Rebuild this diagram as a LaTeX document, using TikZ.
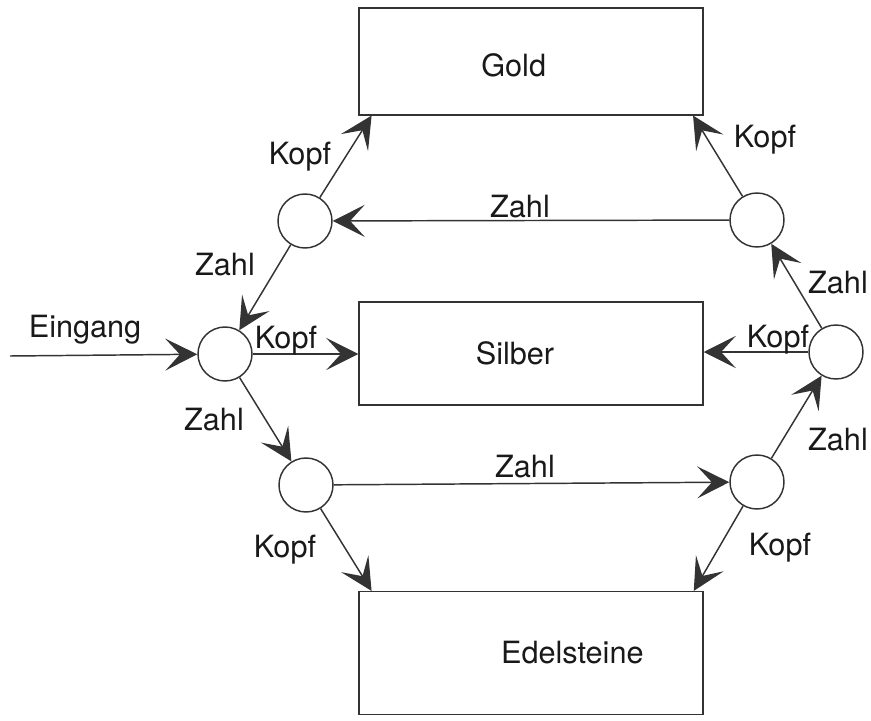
\documentclass[tikz,border=0pt]{standalone}
\usepackage{fontspec}
\setmainfont{TeX Gyre Heros}
\usepackage{tikz}
\usetikzlibrary{arrows.meta,positioning,calc}
\tikzstyle{coin}=[draw,circle,minimum size=40.5pt,inner sep=0pt]
\tikzstyle{chest}=[draw,rectangle,minimum width=258pt,inner sep=0pt]
\tikzstyle{flow}=[-{Stealth[length=24pt,width=24pt,inset=11pt]}]
\tikzstyle{lbl}=[inner sep=0pt]

\begin{document}
\begin{tikzpicture}[x=0.75pt,y=-0.75pt,line width=1.1pt,draw=black!80,text=black!90,
  font=\fontsize{23}{27}\selectfont]
\useasboundingbox (0,0) rectangle (871,721);
\node [chest,minimum height=80pt,label={[xshift=-13pt,yshift=-3pt]center:Gold}] (gold) at (531,61.5) {};
\node [chest,minimum height=77pt,label={[xshift=-12pt]center:Silber}] (silber) at (531,353.5) {};
\node [chest,minimum height=92pt,label={[xshift=31pt]center:Edelsteine}] (edel) at (531,653) {};
\node [coin] (ul) at (305,221) {};
\node [coin] (ur) at (757,220) {};
\node [coin] (lm) at (225,354) {};
\node [coin] (rm) at (836,352) {};
\node [coin] (ll) at (306,485) {};
\node [coin] (lr) at (757,482) {};
\coordinate (in) at (10,356);

\draw [flow] (in) -- (lm);
\draw [flow] (lm) -- (lm -| silber.west);
\draw [flow] (lm) -- (ll);
\draw [flow] (ll) -- ([xshift=10pt]edel.north west);
\draw [flow] (ll) -- (lr);
\draw [flow] (lr) -- ([xshift=-7.5pt]edel.north east);
\draw [flow] (lr) -- (rm);
\draw [flow] (rm) -- (rm -| silber.east);
\draw [flow] (rm) -- (ur);
\draw [flow] (ur) -- ([xshift=-8pt]gold.south east);
\draw [flow] (ur) -- (ul);
\draw [flow] (ul) -- ([xshift=10pt]gold.south west);
\draw [flow] (ul) -- (lm);

\node [lbl] (eingang) at (85,330) {Eingang};
\node [lbl] (k1) at (286,341) {Kopf};
\node [lbl] (z1) at (214,420) {Zahl};
\node [lbl] (k2) at (285,550) {Kopf};
\node [lbl] (z2) at (525,467) {Zahl};
\node [lbl] (k3) at (780,548) {Kopf};
\node [lbl] (z3) at (838,440) {Zahl};
\node [lbl] (k4) at (778,340) {Kopf};
\node [lbl] (z4) at (838,283) {Zahl};
\node [lbl] (k5) at (765,140) {Kopf};
\node [lbl] (z5) at (520,207) {Zahl};
\node [lbl] (z6) at (225,265) {Zahl};
\node [lbl] (k6) at (300,157) {Kopf};
\end{tikzpicture}
\end{document}
